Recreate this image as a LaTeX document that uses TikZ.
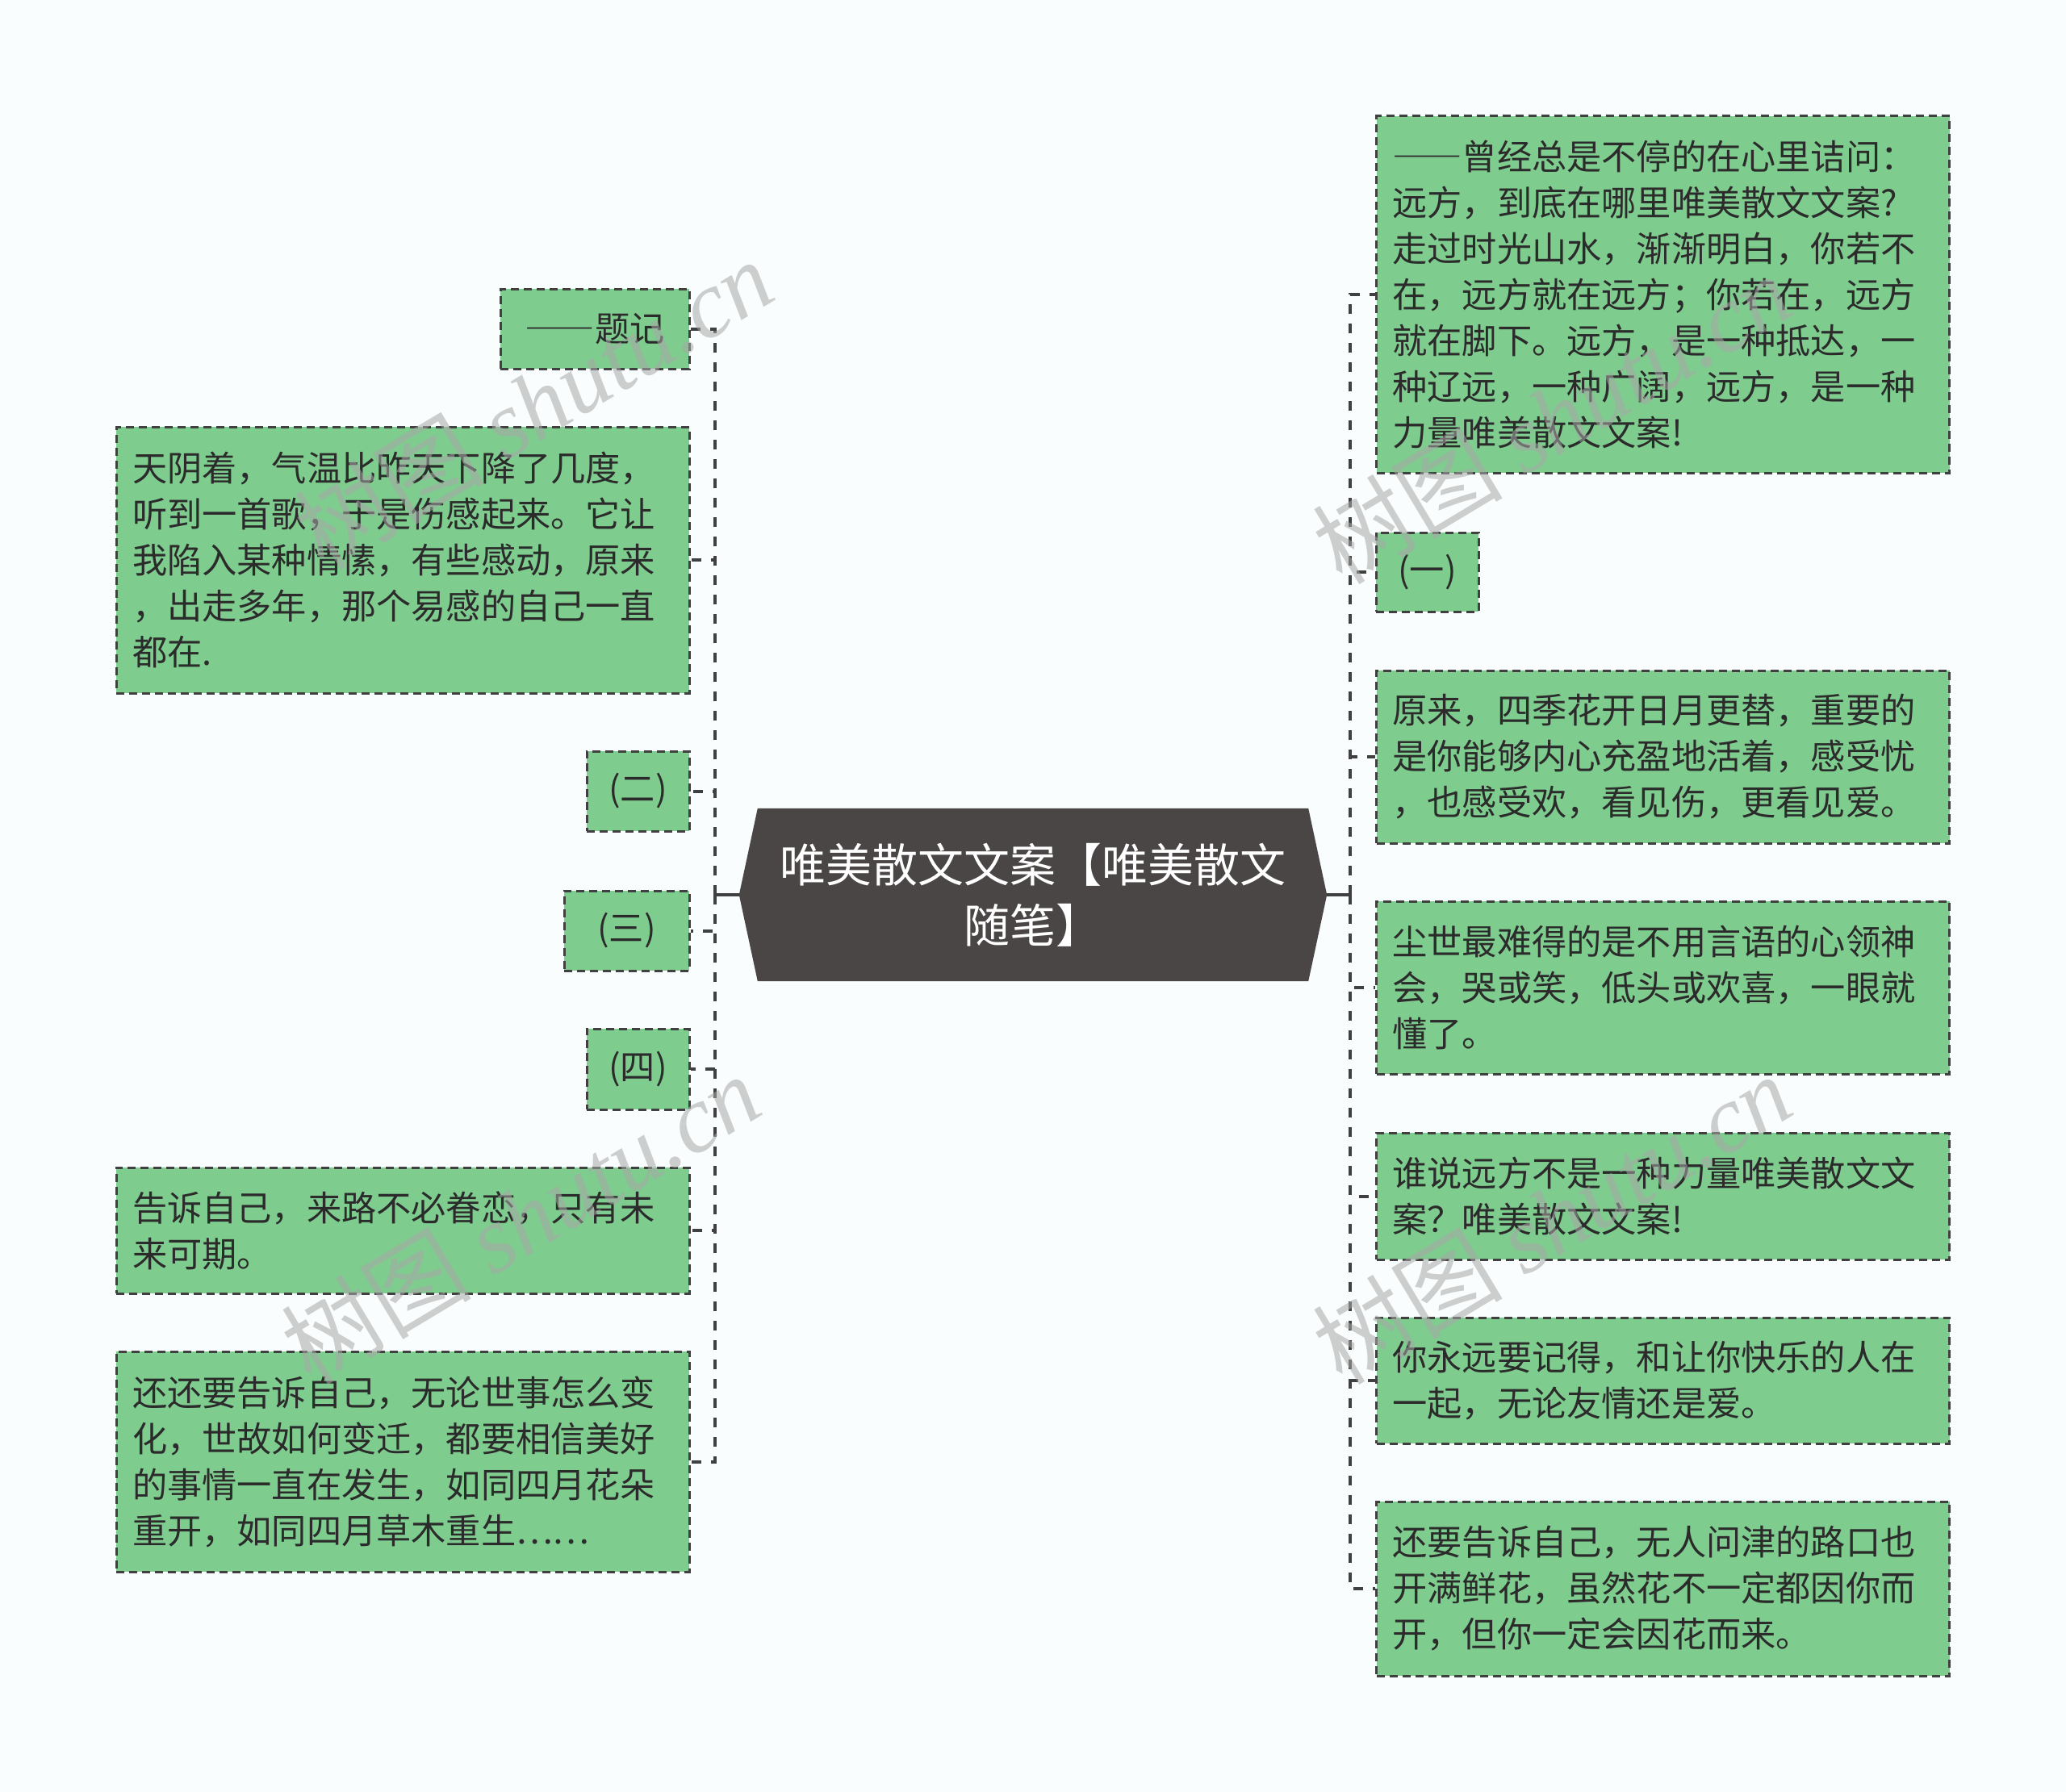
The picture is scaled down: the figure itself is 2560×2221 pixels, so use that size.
\documentclass[tikz,border=0pt]{standalone}
\usepackage{fontspec}
\newfontfamily\cjk{Noto Sans CJK SC}
\newfontfamily\wmlatin{Liberation Serif}
\newcommand{\fwdash}{{\addfontfeatures{RawFeature=+fwid}——}}
\usetikzlibrary{backgrounds}
\definecolor{bgc}{HTML}{FAFDFE}
\definecolor{leafc}{HTML}{7FCC8F}
\definecolor{edgec}{HTML}{404040}
\definecolor{txtc}{HTML}{2B2B2B}
\definecolor{ctrc}{HTML}{4B4646}
\definecolor{wmc}{HTML}{A8A8A8}
\begin{document}
\begin{tikzpicture}[x=1pt,y=-1pt,
  leaf/.style={draw=edgec, fill=leafc, line width=3pt, dash pattern=on 10pt off 6pt,
    text=txtc, font=\cjk\fontsize{43.2pt}{57pt}\selectfont, inner xsep=20pt, inner ysep=0pt},
  para/.style={leaf, text width=670pt, align=left},
  tag/.style={leaf, align=center, inner xsep=0pt},
  ctr/.style={text=white, font=\cjk\fontsize{57pt}{75pt}\selectfont, align=center,
    minimum width=728pt, minimum height=214pt, inner sep=0pt},
  stem/.style={draw=edgec, line width=4pt},
  branch/.style={draw=edgec, line width=4pt, dash pattern=on 12pt off 12pt},
  wm/.style={text=wmc, text opacity=0.55, font=\cjk\fontsize{118pt}{120pt}\selectfont, inner sep=0pt}
]
\useasboundingbox (0,0) rectangle (2560,2221);

% centre
\node[ctr] (C) at (1280,1109) {唯美散文文案【唯美散文\\随笔】};

% left
\node[tag, minimum width=234pt, minimum height=99pt] (L1) at (737,407.5) {\fwdash 题记};
\node[para, minimum height=330pt] (L2) at (499,694) {天阴着，气温比昨天下降了几度，\\听到一首歌，于是伤感起来。它让\\我陷入某种情愫，有些感动，原来\\，出走多年，那个易感的自己一直\\都在.};
\node[tag, minimum width=127pt, minimum height=99pt] (L3) at (790.5,980.5) {(二)};
\node[tag, minimum width=155pt, minimum height=99pt] (L4) at (776.5,1153.5) {(三)};
\node[tag, minimum width=127pt, minimum height=100pt] (L5) at (790.5,1325) {(四)};
\node[para, minimum height=156pt] (L6) at (499,1525) {告诉自己，来路不必眷恋，只有未\\来可期。};
\node[para, minimum height=273pt] (L7) at (499,1811.5) {还还要告诉自己，无论世事怎么变\\化，世故如何变迁，都要相信美好\\的事情一直在发生，如同四月花朵\\重开，如同四月草木重生……};

% right
\node[para, minimum height=442pt] (R1) at (2060.5,365) {\fwdash 曾经总是不停的在心里诘问：\\远方，到底在哪里唯美散文文案?\\走过时光山水，渐渐明白，你若不\\在，远方就在远方；你若在，远方\\就在脚下。远方，是一种抵达，一\\种辽远，一种广阔，远方，是一种\\力量唯美散文文案!};
\node[tag, minimum width=127pt, minimum height=98pt] (R2) at (1768.5,709) {(一)};
\node[para, minimum height=214pt] (R3) at (2060.5,938) {原来，四季花开日月更替，重要的\\是你能够内心充盈地活着，感受忧\\，也感受欢，看见伤，更看见爱。};
\node[para, minimum height=214pt] (R4) at (2060.5,1224) {尘世最难得的是不用言语的心领神\\会，哭或笑，低头或欢喜，一眼就\\懂了。};
\node[para, minimum height=157pt] (R5) at (2060.5,1482.5) {谁说远方不是一种力量唯美散文文\\案？唯美散文文案!};
\node[para, minimum height=156pt] (R6) at (2060.5,1711) {你永远要记得，和让你快乐的人在\\一起，无论友情还是爱。};
\node[para, minimum height=216pt] (R7) at (2060.5,1969) {还要告诉自己，无人问津的路口也\\开满鲜花，虽然花不一定都因你而\\开，但你一定会因花而来。};

\begin{pgfonlayer}{background}
  \fill[bgc] (0,0) rectangle (2560,2221);
  \fill[ctrc] (C.west) -- ([xshift=23pt]C.north west) -- ([xshift=-23pt]C.north east)
    -- (C.east) -- ([xshift=-23pt]C.south east) -- ([xshift=23pt]C.south west) -- cycle;
\end{pgfonlayer}

% connectors
\coordinate (jL) at (886,1109);
\coordinate (jR) at (1673,1109);
\draw[stem] (C.west) -- (jL);
\draw[stem] (C.east) -- (jR);
\foreach \n in {L1,L2,L3,L4,L5,L6,L7} \draw[branch] (jL) |- (\n.east);
\foreach \n in {R1,R2,R3,R4,R5,R6,R7} \draw[branch] (jR) |- (\n.west);

% watermarks
\node[wm, rotate=31] (w1) at (661,500) {树图 {\wmlatin\itshape shutu.cn}};
\node[wm, rotate=31] (w2) at (645,1510) {树图 {\wmlatin\itshape shutu.cn}};
\node[wm, rotate=31] (w3) at (1923,518) {树图 {\wmlatin\itshape shutu.cn}};
\node[wm, rotate=31] (w4) at (1923,1510) {树图 {\wmlatin\itshape shutu.cn}};
\end{tikzpicture}
\end{document}
